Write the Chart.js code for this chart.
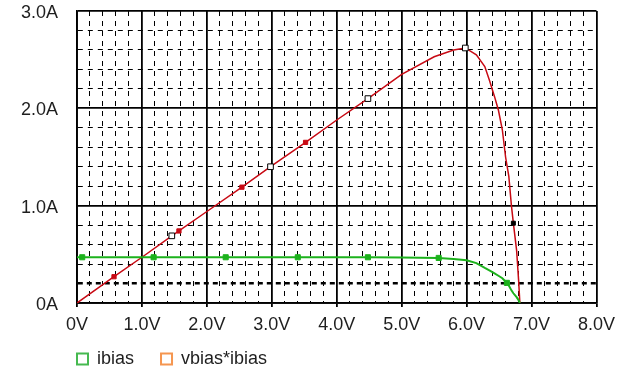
<!DOCTYPE html>
<html>
<head>
<meta charset="utf-8">
<script src="https://cdn.jsdelivr.net/npm/chart.js@4/dist/chart.umd.min.js"></script>
<style>
  html, body { margin: 0; padding: 0; background: #fff; }
  canvas { display: block; }
</style>
</head>
<body>
<canvas id="c" width="622" height="372"></canvas>
<script>
// Trace names and colours
const seriesNames = ['ibias', 'vbias*ibias'];
const lineColors = ['rgb(28,178,28)', 'rgb(200,10,20)'];
const legendColors = ['rgb(70,185,80)', 'rgb(245,150,80)'];

// ibias trace (V, A) and where its symbols sit
const ibiasV = [0, 0.08, 1.18, 2.29, 3.4, 4.48, 5.0, 5.57, 5.8, 6.0, 6.15, 6.28, 6.35, 6.43, 6.49, 6.55, 6.62, 6.65, 6.69, 6.72, 6.77, 6.8, 6.82];
const ibiasA = [0.47, 0.47, 0.47, 0.47, 0.47, 0.47, 0.468, 0.463, 0.452, 0.44, 0.41, 0.36, 0.335, 0.305, 0.28, 0.255, 0.207, 0.18, 0.13, 0.10, 0.06, 0.03, 0];
const ibiasMarks = [0.08, 1.18, 2.29, 3.4, 4.48, 5.57, 6.62];

// vbias*ibias trace (V, product) and its symbols
const powerV = [0, 0.57, 1.0, 1.46, 1.57, 2.0, 2.54, 2.98, 3.52, 4.0, 4.48, 5.0, 5.5, 5.8, 5.98, 6.15, 6.28, 6.35, 6.43, 6.49, 6.55, 6.6, 6.65, 6.69, 6.72, 6.77, 6.8, 6.82];
const powerVal = [0, 0.27, 0.47, 0.69, 0.74, 0.94, 1.19, 1.40, 1.65, 1.88, 2.10, 2.35, 2.53, 2.60, 2.62, 2.55, 2.43, 2.29, 2.12, 1.98, 1.78, 1.50, 1.30, 1.00, 0.82, 0.54, 0.24, 0];
const powerDotMarks = [0.57, 1.57, 2.54, 3.52];
const powerBoxMarks = [1.46, 2.98, 4.48, 5.98];
const powerTickMarks = [6.72];

// Axis labels at the major divisions
const xTickLabels = ['0V', '1.0V', '2.0V', '3.0V', '4.0V', '5.0V', '6.0V', '7.0V', '8.0V'];
const yTickLabels = ['0A', '1.0A', '2.0A', '3.0A'];

const FONT = { family: "'Liberation Sans', Arial, sans-serif", size: 18 };
const TEXT = '#1e1e1e';
const LEGEND_PAD = 27;
const LEGEND_MID_BELOW_AXIS = 56;

const near = (a, b) => Math.abs(a - b) < 1e-6;
const isMajor = v => near(v, Math.round(v));
const has = (list, v) => list.some(m => near(m, v));
const pairs = (xs, ys) => xs.map((x, i) => ({ x, y: ys[i] }));

const tickValue = ctx => (ctx.tick ? ctx.tick.value : 0);

// dashed minor grid, solid major grid
function gridDash(ctx, boldAt) {
  if (!ctx.tick) return [];
  const v = ctx.tick.value;
  if (isMajor(v)) return [];
  if (boldAt !== undefined && near(v, boldAt)) return [5, 4];
  return [5, 5];
}

// Place the legend row just under the axis labels, first box on the plot's left edge
const legendPlace = {
  id: 'legendPlace',
  afterLayout(chart) {
    const lg = chart.legend;
    if (!lg) return;
    const pad = lg.options.labels.padding;
    const dx = chart.chartArea.left - pad - lg.left;
    lg.left += dx;
    lg.right += dx;
    const itemH = Math.max(FONT.size, lg.options.labels.boxHeight);
    const top = chart.chartArea.bottom + LEGEND_MID_BELOW_AXIS - pad - itemH / 2;
    lg.bottom = top + lg.height;
    lg.top = top;
  }
};

new Chart(document.getElementById('c'), {
  type: 'scatter',
  data: {
    datasets: [
      {
        label: seriesNames[0],
        data: pairs(ibiasV, ibiasA),
        showLine: true,
        borderColor: lineColors[0],
        borderWidth: 2,
        tension: 0,
        pointStyle: 'rect',
        pointRadius: c => (has(ibiasMarks, c.raw.x) ? 3.6 : 0),
        pointBackgroundColor: lineColors[0],
        pointBorderColor: lineColors[0],
        pointBorderWidth: 1,
        pointHoverRadius: 0
      },
      {
        label: seriesNames[1],
        data: pairs(powerV, powerVal),
        showLine: true,
        borderColor: lineColors[1],
        borderWidth: 1.5,
        tension: 0,
        pointStyle: 'rect',
        pointRadius: c => {
          const x = c.raw.x;
          if (has(powerBoxMarks, x)) return 4;
          if (has(powerDotMarks, x)) return 3;
          if (has(powerTickMarks, x)) return 2.8;
          return 0;
        },
        pointBackgroundColor: c => {
          const x = c.raw.x;
          if (has(powerBoxMarks, x)) return '#fff';
          if (has(powerTickMarks, x)) return '#000';
          return lineColors[1];
        },
        pointBorderColor: c => {
          const x = c.raw.x;
          if (has(powerBoxMarks, x) || has(powerTickMarks, x)) return '#000';
          return lineColors[1];
        },
        pointBorderWidth: 1,
        pointHoverRadius: 0
      }
    ]
  },
  options: {
    responsive: false,
    animation: false,
    events: [],
    layout: { padding: { top: 11, right: 25, left: 0, bottom: -16 } },
    plugins: {
      tooltip: { enabled: false },
      legend: {
        position: 'bottom',
        align: 'start',
        labels: {
          font: FONT,
          color: TEXT,
          boxWidth: 11,
          boxHeight: 11,
          padding: LEGEND_PAD,
          generateLabels: chart => chart.data.datasets.map((ds, i) => ({
            text: ds.label,
            fillStyle: '#fff',
            strokeStyle: legendColors[i],
            lineWidth: 2,
            hidden: false,
            datasetIndex: i,
            fontColor: TEXT
          }))
        }
      }
    },
    scales: {
      x: {
        type: 'linear',
        min: 0,
        max: 8,
        afterFit: s => { s.height = 30; },
        ticks: {
          stepSize: 0.2,
          autoSkip: false,
          maxRotation: 0,
          padding: 7,
          font: FONT,
          color: TEXT,
          callback: v => (isMajor(v) ? xTickLabels[Math.round(v)] : '')
        },
        grid: {
          color: '#000',
          lineWidth: c => (isMajor(tickValue(c)) ? 1.8 : 1),
          tickLength: 4,
          tickColor: c => (isMajor(tickValue(c)) ? '#000' : 'rgba(0,0,0,0)'),
          tickWidth: 1.8
        },
        border: { color: '#000', width: 1.8, dash: c => gridDash(c) }
      },
      y: {
        type: 'linear',
        min: 0,
        max: 3,
        afterFit: s => { s.width = 77; },
        ticks: {
          stepSize: 0.2,
          autoSkip: false,
          padding: 0,
          labelOffset: 2,
          font: FONT,
          color: TEXT,
          callback: v => (isMajor(v) ? yTickLabels[Math.round(v)] : '')
        },
        grid: {
          color: '#000',
          tickLength: 19,
          tickColor: 'rgba(0,0,0,0)',
          lineWidth: c => {
            const v = tickValue(c);
            if (isMajor(v)) return 1.8;
            if (near(v, 0.2)) return 2.6;
            return 1;
          }
        },
        border: { color: '#000', width: 1.8, dash: c => gridDash(c, 0.2) }
      }
    }
  },
  plugins: [legendPlace]
});
</script>
</body>
</html>
